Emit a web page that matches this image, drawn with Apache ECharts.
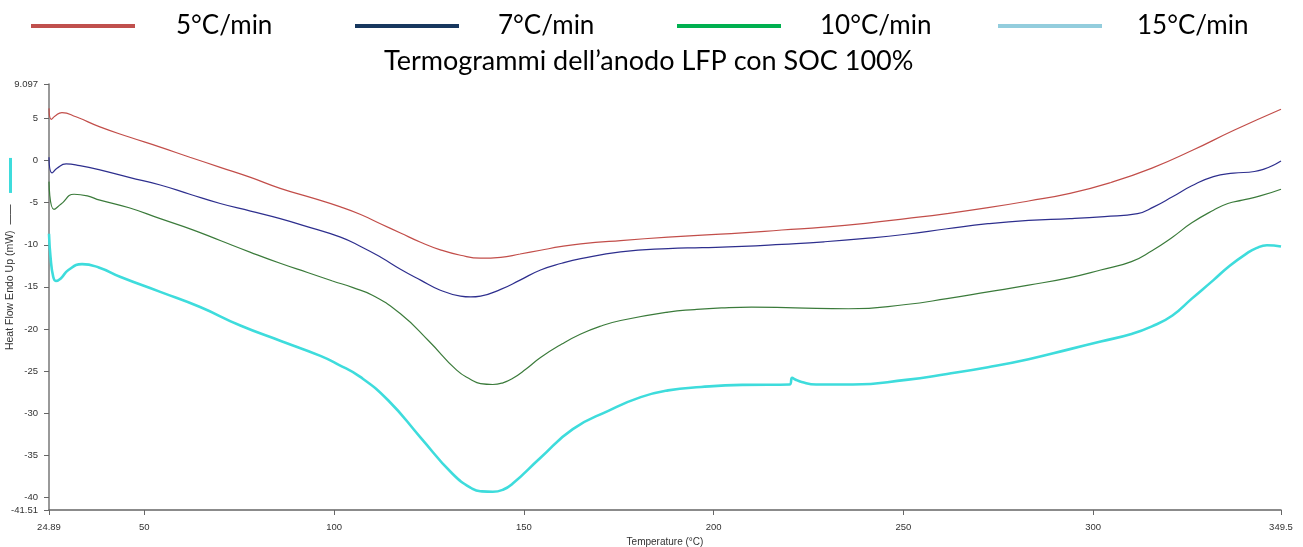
<!DOCTYPE html>
<html>
<head>
<meta charset="utf-8">
<script src="https://cdn.jsdelivr.net/npm/echarts@6/dist/echarts.min.js"></script>
<style>html,body{margin:0;padding:0;background:#fff}#c{width:1303px;height:547px}</style>
</head>
<body>
<div id="c"></div>
<script>
// ---- data ----
const seriesNames = ['5°C/min', '7°C/min', '10°C/min', '15°C/min'];
const titleText = 'Termogrammi dell’anodo LFP con SOC 100%';
const xTicks = [24.89, 50, 100, 150, 200, 250, 300, 349.5];
const yTicks = [9.097, 5, 0, -5, -10, -15, -20, -25, -30, -35, -40, -41.51];

const t5 = [24.89, 25.5, 26.5, 28.3, 32, 38.3, 46, 54.2, 62, 70, 78, 85.8, 94, 101.7, 107, 112.2, 117.5, 122.8, 128, 133.3, 138.6, 143.9, 149, 154.4, 160, 165, 175.5, 188, 197, 207.5, 218, 229.1, 240, 250.7, 261.5, 272.3, 283, 293.9, 304.7, 315.5, 326.3, 337.1, 349.5];
const v5 = [6.2, 4.9, 5.3, 5.7, 5.2, 4.0, 2.8, 1.6, 0.4, -0.8, -2.0, -3.3, -4.4, -5.5, -6.4, -7.5, -8.6, -9.7, -10.6, -11.25, -11.6, -11.5, -11.1, -10.65, -10.2, -9.9, -9.5, -9.1, -8.85, -8.6, -8.25, -7.9, -7.45, -6.9, -6.3, -5.6, -4.8, -3.9, -2.6, -0.9, 1.25, 3.6, 6.1];

const t7 = [24.89, 25.7, 27, 29.4, 33, 38.3, 46, 54.2, 62, 70, 78, 85.8, 94, 101.7, 107, 112.2, 117.5, 122.8, 128, 133.3, 136, 138.6, 143.9, 149, 154.4, 160, 165, 175.5, 188, 197, 207.5, 218, 229.1, 240, 250.7, 261.5, 272.3, 283, 293.9, 303, 311.7, 316, 320.9, 326, 331.7, 337, 342.5, 349.5];
const v7 = [0.4, -1.45, -0.9, -0.4, -0.6, -1.1, -2.0, -2.9, -4.0, -5.1, -6.0, -6.9, -8.0, -9.1, -10.2, -11.45, -12.9, -14.2, -15.4, -16.1, -16.2, -16.1, -15.3, -14.2, -13.0, -12.2, -11.65, -10.85, -10.45, -10.35, -10.2, -9.95, -9.65, -9.25, -8.75, -8.1, -7.5, -7.1, -6.9, -6.65, -6.3, -5.5, -4.3, -3.0, -1.9, -1.5, -1.3, -0.05];

const t10 = [24.89, 26.2, 28, 31.5, 35, 38.3, 46, 54.2, 62.6, 70, 78, 85.8, 93, 99.6, 105, 110.1, 117.5, 124.9, 132.3, 136, 138.6, 141.8, 144.5, 147, 150.5, 154.4, 160, 165, 170, 175.5, 188, 195, 202.1, 210, 221.5, 235.6, 250.7, 261.5, 272.3, 283, 293.9, 302, 310.1, 315.5, 320.9, 326, 331.7, 335.5, 339.3, 344, 349.5];
const v10 = [-2.5, -5.8, -5.2, -4.0, -4.2, -4.7, -5.6, -6.9, -8.2, -9.5, -10.9, -12.2, -13.3, -14.3, -15.1, -16.0, -18.2, -21.4, -24.9, -26.0, -26.5, -26.6, -26.4, -25.9, -24.8, -23.4, -21.8, -20.6, -19.7, -19.0, -18.0, -17.7, -17.5, -17.4, -17.5, -17.6, -17.1, -16.4, -15.6, -14.8, -13.9, -13.0, -12.0, -10.7, -9.1, -7.4, -5.9, -5.1, -4.7, -4.2, -3.4];

const t15 = [24.89, 25.3, 26, 26.7, 28, 30, 33.6, 38, 43.6, 54.2, 64.7, 75.3, 85.8, 96.4, 101, 106.9, 114.3, 122.8, 131.2, 136.5, 139, 141.8, 144.5, 147, 154.4, 162.9, 172.4, 180.8, 188, 196.7, 207.5, 220.0, 220.7, 221.5, 223.2, 227.0, 236.7, 250.7, 261.5, 272.3, 283, 293.9, 302, 310.1, 315.5, 320.9, 326, 331.7, 336, 340.4, 343, 345.8, 349.5];
const v15 = [-8.7, -11.5, -13.8, -14.3, -14.0, -13.0, -12.3, -12.7, -13.8, -15.6, -17.4, -19.6, -21.4, -23.2, -24.2, -25.7, -28.5, -32.9, -37.2, -39.0, -39.3, -39.35, -39.1, -38.4, -35.3, -31.9, -29.7, -28.1, -27.3, -26.9, -26.65, -26.6, -25.8, -26.0, -26.3, -26.6, -26.6, -26.05, -25.35, -24.55, -23.6, -22.4, -21.5, -20.6, -19.7, -18.4, -16.4, -14.2, -12.5, -11.05, -10.4, -10.05, -10.2];

// ---- styling ----
const lineColors = ['#C24E4A', '#2E2F8E', '#3B7B3B', '#3EDCDC'];
const lineWidths = [1.2, 1.2, 1.2, 2.6];
const legendColors = ['#C0504D', '#17375E', '#00B050', '#93CDDD'];
const legendLefts = [31, 355, 677, 998];
const legendPads = [36, 34, 34, 30];

const zip = (t, v) => t.map((x, i) => [x, v[i]]);
const allT = [t5, t7, t10, t15];
const allV = [v5, v7, v10, v15];

const chart = echarts.init(document.getElementById('c'));
const axisFont = 'Liberation Sans, Arial, sans-serif';

chart.setOption({
  animation: false,
  backgroundColor: '#fff',
  title: {
    text: titleText,
    left: 384,
    top: 46,
    padding: 0,
    textStyle: { fontFamily: 'Lato', fontWeight: 'normal', fontSize: 27, color: '#000', lineHeight: 30 }
  },
  legend: seriesNames.map((n, i) => ({
    data: [{ name: n, icon: 'rect', itemStyle: { color: legendColors[i] } }],
    left: legendLefts[i],
    top: 11,
    padding: 0,
    itemWidth: 104,
    itemHeight: 4,
    selectedMode: false,
    textStyle: { fontFamily: 'Lato', fontSize: 26, color: '#000', padding: [0, 0, 0, legendPads[i]], lineHeight: 30 }
  })),
  grid: { left: 49, right: 22, top: 84, bottom: 37, containLabel: false, outerBoundsMode: 'none' },
  xAxis: {
    type: 'value',
    min: 24.89,
    max: 349.5,
    name: 'Temperature (°C)',
    nameLocation: 'middle',
    nameGap: 27,
    nameMoveOverlap: false,
    nameTextStyle: { fontFamily: axisFont, fontSize: 10, color: '#333' },
    axisLine: { onZero: false, lineStyle: { color: '#666', width: 1.5 } },
    axisTick: { show: true, length: 5, inside: false, customValues: xTicks, lineStyle: { color: '#666' } },
    axisLabel: { customValues: xTicks, fontFamily: axisFont, fontSize: 9.5, color: '#333', margin: 12 },
    splitLine: { show: false }
  },
  yAxis: {
    type: 'value',
    min: -41.51,
    max: 9.097,
    name: '{t|Heat Flow Endo Up (mW)}  {k|——}    {c|}',
    nameLocation: 'middle',
    nameRotate: 90,
    nameGap: 33,
    nameMoveOverlap: false,
    nameTextStyle: {
      fontFamily: axisFont, fontSize: 10.5, color: '#333', padding: [0, 0, 0, 86],
      rich: {
        t: { fontFamily: axisFont, fontSize: 10.5, color: '#333' },
        k: { fontFamily: axisFont, fontSize: 10, color: '#222' },
        c: { backgroundColor: '#3EDCDC', width: 35, height: 3 }
      }
    },
    axisLine: { show: true, onZero: false, lineStyle: { color: '#777', width: 1.5 } },
    axisTick: { show: true, length: 5, inside: false, customValues: yTicks, lineStyle: { color: '#666' } },
    axisLabel: { customValues: yTicks, fontFamily: axisFont, fontSize: 9.5, color: '#333', margin: 11 },
    splitLine: { show: false }
  },
  series: seriesNames.map((n, i) => ({
    name: n,
    type: 'line',
    data: zip(allT[i], allV[i]),
    showSymbol: false,
    symbol: 'none',
    smooth: 0.5,
    lineStyle: { color: lineColors[i], width: lineWidths[i] },
    itemStyle: { color: lineColors[i] },
    z: 4 - i
  }))
});
</script>
</body>
</html>
